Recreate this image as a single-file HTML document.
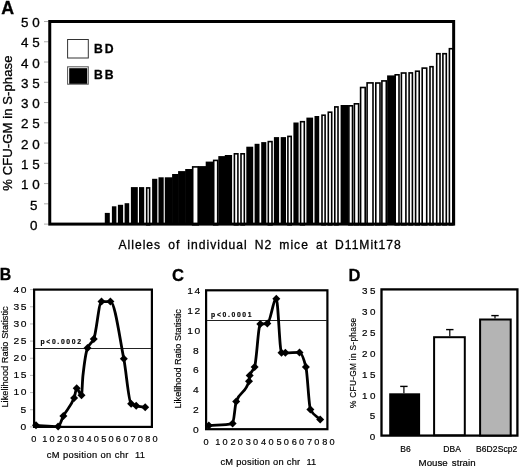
<!DOCTYPE html>
<html><head><meta charset="utf-8"><style>
html,body{margin:0;padding:0;background:#fff;}
svg{display:block;filter:blur(0.35px);font-family:"Liberation Sans", sans-serif;}
text{stroke:#000;stroke-width:0.3px;}
</style></head><body>
<svg width="520" height="468" viewBox="0 0 520 468">
<rect width="520" height="468" fill="#fff"/>
<text x="1.3" y="13.7" text-anchor="start" fill="#000" style="font-size:17.8px;font-weight:bold;letter-spacing:0px;word-spacing:0px;stroke-width:0.3px;">A</text>
<line x1="44" y1="224.10" x2="48.5" y2="224.10" stroke="#999" stroke-width="0.8"/>
<text x="0" y="0" text-anchor="start" fill="#000" style="font-size:12.2px;font-weight:normal;letter-spacing:3.3832414772727253px;word-spacing:0px;stroke-width:0.3px;" transform="translate(29.9 229.97) scale(1.1 1)">0</text>
<line x1="44" y1="203.84" x2="48.5" y2="203.84" stroke="#999" stroke-width="0.8"/>
<text x="0" y="0" text-anchor="start" fill="#000" style="font-size:12.2px;font-weight:normal;letter-spacing:3.3832414772727253px;word-spacing:0px;stroke-width:0.3px;" transform="translate(29.9 209.67000000000002) scale(1.1 1)">5</text>
<line x1="44" y1="183.58" x2="48.5" y2="183.58" stroke="#999" stroke-width="0.8"/>
<text x="0" y="0" text-anchor="start" fill="#000" style="font-size:12.2px;font-weight:normal;letter-spacing:3.3832414772727253px;word-spacing:0px;stroke-width:0.3px;" transform="translate(21.0 189.37) scale(1.1 1)">10</text>
<line x1="44" y1="163.32" x2="48.5" y2="163.32" stroke="#999" stroke-width="0.8"/>
<text x="0" y="0" text-anchor="start" fill="#000" style="font-size:12.2px;font-weight:normal;letter-spacing:3.3832414772727253px;word-spacing:0px;stroke-width:0.3px;" transform="translate(21.0 169.07) scale(1.1 1)">15</text>
<line x1="44" y1="143.06" x2="48.5" y2="143.06" stroke="#999" stroke-width="0.8"/>
<text x="0" y="0" text-anchor="start" fill="#000" style="font-size:12.2px;font-weight:normal;letter-spacing:3.3832414772727253px;word-spacing:0px;stroke-width:0.3px;" transform="translate(21.0 148.77) scale(1.1 1)">20</text>
<line x1="44" y1="122.80" x2="48.5" y2="122.80" stroke="#999" stroke-width="0.8"/>
<text x="0" y="0" text-anchor="start" fill="#000" style="font-size:12.2px;font-weight:normal;letter-spacing:3.3832414772727253px;word-spacing:0px;stroke-width:0.3px;" transform="translate(21.0 128.47) scale(1.1 1)">25</text>
<line x1="44" y1="102.54" x2="48.5" y2="102.54" stroke="#999" stroke-width="0.8"/>
<text x="0" y="0" text-anchor="start" fill="#000" style="font-size:12.2px;font-weight:normal;letter-spacing:3.3832414772727253px;word-spacing:0px;stroke-width:0.3px;" transform="translate(21.0 108.17000000000002) scale(1.1 1)">30</text>
<line x1="44" y1="82.28" x2="48.5" y2="82.28" stroke="#999" stroke-width="0.8"/>
<text x="0" y="0" text-anchor="start" fill="#000" style="font-size:12.2px;font-weight:normal;letter-spacing:3.3832414772727253px;word-spacing:0px;stroke-width:0.3px;" transform="translate(21.0 87.87) scale(1.1 1)">35</text>
<line x1="44" y1="62.02" x2="48.5" y2="62.02" stroke="#999" stroke-width="0.8"/>
<text x="0" y="0" text-anchor="start" fill="#000" style="font-size:12.2px;font-weight:normal;letter-spacing:3.3832414772727253px;word-spacing:0px;stroke-width:0.3px;" transform="translate(21.0 67.57000000000001) scale(1.1 1)">40</text>
<line x1="44" y1="41.76" x2="48.5" y2="41.76" stroke="#999" stroke-width="0.8"/>
<text x="0" y="0" text-anchor="start" fill="#000" style="font-size:12.2px;font-weight:normal;letter-spacing:3.3832414772727253px;word-spacing:0px;stroke-width:0.3px;" transform="translate(21.0 47.27) scale(1.1 1)">45</text>
<line x1="44" y1="21.50" x2="48.5" y2="21.50" stroke="#999" stroke-width="0.8"/>
<text x="0" y="0" text-anchor="start" fill="#000" style="font-size:12.2px;font-weight:normal;letter-spacing:3.3832414772727253px;word-spacing:0px;stroke-width:0.3px;" transform="translate(21.0 26.970000000000002) scale(1.1 1)">50</text>
<text x="11.9" y="190.7" text-anchor="start" fill="#000" style="font-size:13px;font-weight:normal;letter-spacing:0.12px;word-spacing:0px;stroke-width:0.3px;" transform="rotate(-90 11.9 190.7)">% CFU-GM in S-phase</text>
<rect x="104.80" y="212.90" width="5.00" height="11.10" fill="#000"/>
<rect x="111.90" y="206.30" width="4.50" height="17.70" fill="#000"/>
<rect x="117.90" y="204.80" width="5.20" height="19.20" fill="#000"/>
<rect x="124.60" y="203.20" width="4.60" height="20.80" fill="#000"/>
<rect x="130.90" y="187.10" width="6.90" height="36.90" fill="#000"/>
<rect x="139.00" y="187.10" width="5.20" height="36.90" fill="#000"/>
<rect x="152.10" y="178.80" width="5.20" height="45.20" fill="#000"/>
<rect x="158.50" y="177.30" width="5.20" height="46.70" fill="#000"/>
<rect x="164.80" y="177.30" width="7.90" height="46.70" fill="#000"/>
<rect x="172.10" y="174.00" width="6.60" height="50.00" fill="#000"/>
<rect x="178.10" y="171.10" width="7.70" height="52.90" fill="#000"/>
<rect x="185.20" y="169.00" width="7.30" height="55.00" fill="#000"/>
<rect x="198.30" y="166.10" width="8.00" height="57.90" fill="#000"/>
<rect x="205.70" y="161.60" width="7.80" height="62.40" fill="#000"/>
<rect x="218.30" y="156.10" width="7.10" height="67.90" fill="#000"/>
<rect x="224.80" y="155.00" width="7.30" height="69.00" fill="#000"/>
<rect x="246.30" y="146.70" width="6.90" height="77.30" fill="#000"/>
<rect x="254.60" y="143.80" width="4.90" height="80.20" fill="#000"/>
<rect x="261.20" y="142.10" width="5.10" height="81.90" fill="#000"/>
<rect x="273.90" y="137.10" width="5.20" height="86.90" fill="#000"/>
<rect x="280.70" y="137.10" width="5.30" height="86.90" fill="#000"/>
<rect x="293.40" y="122.50" width="5.20" height="101.50" fill="#000"/>
<rect x="306.40" y="117.60" width="6.70" height="106.40" fill="#000"/>
<rect x="314.50" y="116.00" width="4.70" height="108.00" fill="#000"/>
<rect x="340.60" y="105.00" width="8.10" height="119.00" fill="#000"/>
<rect x="387.10" y="75.40" width="7.90" height="148.60" fill="#000"/>
<rect x="146.70" y="187.90" width="2.90" height="36.90" fill="#fff" stroke="#000" stroke-width="1.6"/>
<rect x="192.70" y="166.90" width="5.50" height="57.90" fill="#fff" stroke="#000" stroke-width="1.6"/>
<rect x="213.70" y="160.40" width="4.00" height="64.40" fill="#fff" stroke="#000" stroke-width="1.6"/>
<rect x="234.40" y="153.80" width="3.50" height="71.00" fill="#fff" stroke="#000" stroke-width="1.6"/>
<rect x="241.00" y="153.80" width="3.30" height="71.00" fill="#fff" stroke="#000" stroke-width="1.6"/>
<rect x="268.30" y="141.60" width="3.70" height="83.20" fill="#fff" stroke="#000" stroke-width="1.6"/>
<rect x="287.90" y="136.40" width="3.30" height="88.40" fill="#fff" stroke="#000" stroke-width="1.6"/>
<rect x="300.60" y="121.70" width="3.70" height="103.10" fill="#fff" stroke="#000" stroke-width="1.6"/>
<rect x="322.00" y="115.20" width="3.10" height="109.60" fill="#fff" stroke="#000" stroke-width="1.6"/>
<rect x="328.30" y="112.20" width="3.40" height="112.60" fill="#fff" stroke="#000" stroke-width="1.6"/>
<rect x="334.80" y="106.90" width="3.20" height="117.90" fill="#fff" stroke="#000" stroke-width="1.6"/>
<rect x="348.90" y="105.80" width="3.60" height="119.00" fill="#fff" stroke="#000" stroke-width="1.6"/>
<rect x="354.40" y="103.80" width="4.20" height="121.00" fill="#fff" stroke="#000" stroke-width="1.6"/>
<rect x="360.60" y="87.50" width="4.60" height="137.30" fill="#fff" stroke="#000" stroke-width="1.6"/>
<rect x="367.10" y="82.90" width="5.90" height="141.90" fill="#fff" stroke="#000" stroke-width="1.6"/>
<rect x="375.80" y="83.00" width="4.20" height="141.80" fill="#fff" stroke="#000" stroke-width="1.6"/>
<rect x="381.90" y="80.90" width="4.40" height="143.90" fill="#fff" stroke="#000" stroke-width="1.6"/>
<rect x="395.20" y="74.80" width="3.80" height="150.00" fill="#fff" stroke="#000" stroke-width="1.6"/>
<rect x="401.40" y="73.00" width="4.50" height="151.80" fill="#fff" stroke="#000" stroke-width="1.6"/>
<rect x="409.10" y="72.90" width="3.30" height="151.90" fill="#fff" stroke="#000" stroke-width="1.6"/>
<rect x="415.60" y="71.20" width="3.60" height="153.60" fill="#fff" stroke="#000" stroke-width="1.6"/>
<rect x="422.20" y="68.10" width="4.50" height="156.70" fill="#fff" stroke="#000" stroke-width="1.6"/>
<rect x="430.00" y="66.70" width="3.00" height="158.10" fill="#fff" stroke="#000" stroke-width="1.6"/>
<rect x="436.70" y="53.70" width="3.30" height="171.10" fill="#fff" stroke="#000" stroke-width="1.6"/>
<rect x="442.90" y="53.70" width="3.40" height="171.10" fill="#fff" stroke="#000" stroke-width="1.6"/>
<rect x="449.40" y="48.70" width="3.40" height="176.10" fill="#fff" stroke="#000" stroke-width="1.6"/>
<rect x="49.75" y="21.5" width="403.9" height="202.6" fill="none" stroke="#000" stroke-width="3"/>
<rect x="67.6" y="39.5" width="20.7" height="18.5" fill="#fff" stroke="#333" stroke-width="1"/>
<rect x="67.6" y="66.8" width="20.7" height="17.4" fill="#fff" stroke="#555" stroke-width="1"/>
<rect x="69.2" y="68.2" width="18" height="15.6" fill="#000"/>
<text x="94" y="52.8" text-anchor="start" fill="#000" style="font-size:12.2px;font-weight:bold;letter-spacing:2.0px;word-spacing:0px;stroke-width:0.3px;">BD</text>
<text x="94" y="79" text-anchor="start" fill="#000" style="font-size:12.2px;font-weight:bold;letter-spacing:2.0px;word-spacing:0px;stroke-width:0.3px;">BB</text>
<text x="118.5" y="248.5" text-anchor="start" fill="#000" style="font-size:12.1px;font-weight:normal;letter-spacing:1.0px;word-spacing:2.7px;stroke-width:0.3px;">Alleles of individual N2 mice at D11Mit178</text>
<text x="-0.3" y="280.3" text-anchor="start" fill="#000" style="font-size:15.9px;font-weight:bold;letter-spacing:0px;word-spacing:0px;stroke-width:0.3px;">B</text>
<rect x="34.1" y="289.6" width="117.8" height="137.3" fill="none" stroke="#000" stroke-width="2.2"/>
<line x1="30" y1="426.90" x2="33" y2="426.90" stroke="#aaa" stroke-width="0.8"/>
<text x="0" y="0" text-anchor="start" fill="#000" style="font-size:9.5px;font-weight:normal;letter-spacing:1.46052662037037px;word-spacing:0px;stroke-width:0.18px;" transform="translate(20.5 429.79999999999995) scale(1.08 1)">0</text>
<line x1="30" y1="409.74" x2="33" y2="409.74" stroke="#aaa" stroke-width="0.8"/>
<text x="0" y="0" text-anchor="start" fill="#000" style="font-size:9.5px;font-weight:normal;letter-spacing:1.46052662037037px;word-spacing:0px;stroke-width:0.18px;" transform="translate(20.5 412.63999999999993) scale(1.08 1)">5</text>
<line x1="30" y1="392.58" x2="33" y2="392.58" stroke="#aaa" stroke-width="0.8"/>
<text x="0" y="0" text-anchor="start" fill="#000" style="font-size:9.5px;font-weight:normal;letter-spacing:1.46052662037037px;word-spacing:0px;stroke-width:0.18px;" transform="translate(13.5 395.47999999999996) scale(1.08 1)">10</text>
<line x1="30" y1="375.42" x2="33" y2="375.42" stroke="#aaa" stroke-width="0.8"/>
<text x="0" y="0" text-anchor="start" fill="#000" style="font-size:9.5px;font-weight:normal;letter-spacing:1.46052662037037px;word-spacing:0px;stroke-width:0.18px;" transform="translate(13.5 378.31999999999994) scale(1.08 1)">15</text>
<line x1="30" y1="358.26" x2="33" y2="358.26" stroke="#aaa" stroke-width="0.8"/>
<text x="0" y="0" text-anchor="start" fill="#000" style="font-size:9.5px;font-weight:normal;letter-spacing:1.46052662037037px;word-spacing:0px;stroke-width:0.18px;" transform="translate(13.5 361.15999999999997) scale(1.08 1)">20</text>
<line x1="30" y1="341.10" x2="33" y2="341.10" stroke="#aaa" stroke-width="0.8"/>
<text x="0" y="0" text-anchor="start" fill="#000" style="font-size:9.5px;font-weight:normal;letter-spacing:1.46052662037037px;word-spacing:0px;stroke-width:0.18px;" transform="translate(13.5 343.99999999999994) scale(1.08 1)">25</text>
<line x1="30" y1="323.94" x2="33" y2="323.94" stroke="#aaa" stroke-width="0.8"/>
<text x="0" y="0" text-anchor="start" fill="#000" style="font-size:9.5px;font-weight:normal;letter-spacing:1.46052662037037px;word-spacing:0px;stroke-width:0.18px;" transform="translate(13.5 326.84) scale(1.08 1)">30</text>
<line x1="30" y1="306.78" x2="33" y2="306.78" stroke="#aaa" stroke-width="0.8"/>
<text x="0" y="0" text-anchor="start" fill="#000" style="font-size:9.5px;font-weight:normal;letter-spacing:1.46052662037037px;word-spacing:0px;stroke-width:0.18px;" transform="translate(13.5 309.67999999999995) scale(1.08 1)">35</text>
<line x1="30" y1="289.62" x2="33" y2="289.62" stroke="#aaa" stroke-width="0.8"/>
<text x="0" y="0" text-anchor="start" fill="#000" style="font-size:9.5px;font-weight:normal;letter-spacing:1.46052662037037px;word-spacing:0px;stroke-width:0.18px;" transform="translate(13.5 292.52) scale(1.08 1)">40</text>
<text x="7.9" y="407.6" text-anchor="start" fill="#000" style="font-size:9.3px;font-weight:normal;letter-spacing:0px;word-spacing:0px;stroke-width:0.18px;" transform="rotate(-90 7.9 407.6)">Likelihood Ratio Statistic</text>
<text x="33.8" y="441.8" text-anchor="middle" fill="#000" style="font-size:9.2px;font-weight:normal;letter-spacing:2.2px;word-spacing:0px;stroke-width:0.18px;" dx="1.1">0</text>
<text x="48.51" y="441.8" text-anchor="middle" fill="#000" style="font-size:9.2px;font-weight:normal;letter-spacing:2.2px;word-spacing:0px;stroke-width:0.18px;" dx="1.1">10</text>
<text x="63.22" y="441.8" text-anchor="middle" fill="#000" style="font-size:9.2px;font-weight:normal;letter-spacing:2.2px;word-spacing:0px;stroke-width:0.18px;" dx="1.1">20</text>
<text x="77.93" y="441.8" text-anchor="middle" fill="#000" style="font-size:9.2px;font-weight:normal;letter-spacing:2.2px;word-spacing:0px;stroke-width:0.18px;" dx="1.1">30</text>
<text x="92.64" y="441.8" text-anchor="middle" fill="#000" style="font-size:9.2px;font-weight:normal;letter-spacing:2.2px;word-spacing:0px;stroke-width:0.18px;" dx="1.1">40</text>
<text x="107.35000000000001" y="441.8" text-anchor="middle" fill="#000" style="font-size:9.2px;font-weight:normal;letter-spacing:2.2px;word-spacing:0px;stroke-width:0.18px;" dx="1.1">50</text>
<text x="122.06" y="441.8" text-anchor="middle" fill="#000" style="font-size:9.2px;font-weight:normal;letter-spacing:2.2px;word-spacing:0px;stroke-width:0.18px;" dx="1.1">60</text>
<text x="136.76999999999998" y="441.8" text-anchor="middle" fill="#000" style="font-size:9.2px;font-weight:normal;letter-spacing:2.2px;word-spacing:0px;stroke-width:0.18px;" dx="1.1">70</text>
<text x="151.48000000000002" y="441.8" text-anchor="middle" fill="#000" style="font-size:9.2px;font-weight:normal;letter-spacing:2.2px;word-spacing:0px;stroke-width:0.18px;" dx="1.1">80</text>
<text x="46.8" y="457.5" text-anchor="start" fill="#000" style="font-size:9.3px;font-weight:normal;letter-spacing:0.3px;word-spacing:0.3px;stroke-width:0.18px;" xml:space="preserve">cM position on chr  11</text>
<line x1="35" y1="348.5" x2="151" y2="348.5" stroke="#222" stroke-width="1"/>
<text x="40.5" y="343.6" text-anchor="start" fill="#000" style="font-size:6.8px;font-weight:bold;letter-spacing:1.65px;word-spacing:0px;stroke-width:0.18px;">p&lt;0.0002</text>
<path d="M36.00,425.30 C43.37,425.73 50.73,426.60 58.10,426.60 C59.87,426.60 61.63,419.16 63.40,415.90 C66.97,409.32 70.53,407.04 74.10,398.10 C74.97,395.93 75.83,388.30 76.70,388.30 C78.30,388.30 79.90,395.30 81.50,395.30 C81.97,395.30 82.43,380.22 82.90,376.00 C84.43,362.12 85.97,351.78 87.50,348.10 C89.58,343.09 91.67,343.64 93.75,339.10 C96.33,333.48 98.92,301.60 101.50,301.60 C104.47,301.60 107.43,301.60 110.40,301.60 C114.87,301.60 119.33,335.86 123.80,358.80 C126.23,371.30 128.67,402.09 131.10,403.80 C132.80,404.99 134.50,405.41 136.20,405.80 C139.20,406.50 142.20,406.73 145.20,407.20" fill="none" stroke="#000" stroke-width="2.8" stroke-linejoin="round" stroke-linecap="round"/>
<path d="M32.00,425.30 L36.00,421.30 L40.00,425.30 L36.00,429.30 Z" fill="#000"/>
<path d="M54.10,426.60 L58.10,422.60 L62.10,426.60 L58.10,430.60 Z" fill="#000"/>
<path d="M59.40,415.90 L63.40,411.90 L67.40,415.90 L63.40,419.90 Z" fill="#000"/>
<path d="M70.10,398.10 L74.10,394.10 L78.10,398.10 L74.10,402.10 Z" fill="#000"/>
<path d="M72.70,388.30 L76.70,384.30 L80.70,388.30 L76.70,392.30 Z" fill="#000"/>
<path d="M77.50,395.30 L81.50,391.30 L85.50,395.30 L81.50,399.30 Z" fill="#000"/>
<path d="M83.50,348.10 L87.50,344.10 L91.50,348.10 L87.50,352.10 Z" fill="#000"/>
<path d="M89.75,339.10 L93.75,335.10 L97.75,339.10 L93.75,343.10 Z" fill="#000"/>
<path d="M97.50,301.60 L101.50,297.60 L105.50,301.60 L101.50,305.60 Z" fill="#000"/>
<path d="M106.40,301.60 L110.40,297.60 L114.40,301.60 L110.40,305.60 Z" fill="#000"/>
<path d="M119.80,358.80 L123.80,354.80 L127.80,358.80 L123.80,362.80 Z" fill="#000"/>
<path d="M127.10,403.80 L131.10,399.80 L135.10,403.80 L131.10,407.80 Z" fill="#000"/>
<path d="M132.20,405.80 L136.20,401.80 L140.20,405.80 L136.20,409.80 Z" fill="#000"/>
<path d="M141.20,407.20 L145.20,403.20 L149.20,407.20 L145.20,411.20 Z" fill="#000"/>
<text x="171.9" y="281.3" text-anchor="start" fill="#000" style="font-size:16.6px;font-weight:bold;letter-spacing:0px;word-spacing:0px;stroke-width:0.3px;">C</text>
<rect x="206.1" y="290.3" width="121.3" height="138.9" fill="none" stroke="#000" stroke-width="2.2"/>
<text x="0" y="0" text-anchor="start" fill="#000" style="font-size:9.5px;font-weight:normal;letter-spacing:1.46052662037037px;word-spacing:0px;stroke-width:0.18px;" transform="translate(193.1 432.8) scale(1.08 1)">0</text>
<text x="0" y="0" text-anchor="start" fill="#000" style="font-size:9.5px;font-weight:normal;letter-spacing:1.46052662037037px;word-spacing:0px;stroke-width:0.18px;" transform="translate(193.1 413.0) scale(1.08 1)">2</text>
<text x="0" y="0" text-anchor="start" fill="#000" style="font-size:9.5px;font-weight:normal;letter-spacing:1.46052662037037px;word-spacing:0px;stroke-width:0.18px;" transform="translate(193.1 393.2) scale(1.08 1)">4</text>
<text x="0" y="0" text-anchor="start" fill="#000" style="font-size:9.5px;font-weight:normal;letter-spacing:1.46052662037037px;word-spacing:0px;stroke-width:0.18px;" transform="translate(193.1 373.40000000000003) scale(1.08 1)">6</text>
<text x="0" y="0" text-anchor="start" fill="#000" style="font-size:9.5px;font-weight:normal;letter-spacing:1.46052662037037px;word-spacing:0px;stroke-width:0.18px;" transform="translate(193.1 353.6) scale(1.08 1)">8</text>
<text x="0" y="0" text-anchor="start" fill="#000" style="font-size:9.5px;font-weight:normal;letter-spacing:1.46052662037037px;word-spacing:0px;stroke-width:0.18px;" transform="translate(187.3 333.8) scale(1.08 1)">10</text>
<text x="0" y="0" text-anchor="start" fill="#000" style="font-size:9.5px;font-weight:normal;letter-spacing:1.46052662037037px;word-spacing:0px;stroke-width:0.18px;" transform="translate(187.3 314.0) scale(1.08 1)">12</text>
<text x="0" y="0" text-anchor="start" fill="#000" style="font-size:9.5px;font-weight:normal;letter-spacing:1.46052662037037px;word-spacing:0px;stroke-width:0.18px;" transform="translate(187.3 294.2) scale(1.08 1)">14</text>
<text x="180.7" y="408.5" text-anchor="start" fill="#000" style="font-size:9.15px;font-weight:normal;letter-spacing:0px;word-spacing:0px;stroke-width:0.18px;" transform="rotate(-90 180.7 408.5)">Likelihood Ratio Statistic</text>
<text x="206.1" y="445.0" text-anchor="middle" fill="#000" style="font-size:9.2px;font-weight:normal;letter-spacing:2.2px;word-spacing:0px;stroke-width:0.18px;" dx="1.1">0</text>
<text x="221.4" y="445.0" text-anchor="middle" fill="#000" style="font-size:9.2px;font-weight:normal;letter-spacing:2.2px;word-spacing:0px;stroke-width:0.18px;" dx="1.1">10</text>
<text x="236.7" y="445.0" text-anchor="middle" fill="#000" style="font-size:9.2px;font-weight:normal;letter-spacing:2.2px;word-spacing:0px;stroke-width:0.18px;" dx="1.1">20</text>
<text x="252.0" y="445.0" text-anchor="middle" fill="#000" style="font-size:9.2px;font-weight:normal;letter-spacing:2.2px;word-spacing:0px;stroke-width:0.18px;" dx="1.1">30</text>
<text x="267.3" y="445.0" text-anchor="middle" fill="#000" style="font-size:9.2px;font-weight:normal;letter-spacing:2.2px;word-spacing:0px;stroke-width:0.18px;" dx="1.1">40</text>
<text x="282.6" y="445.0" text-anchor="middle" fill="#000" style="font-size:9.2px;font-weight:normal;letter-spacing:2.2px;word-spacing:0px;stroke-width:0.18px;" dx="1.1">50</text>
<text x="297.9" y="445.0" text-anchor="middle" fill="#000" style="font-size:9.2px;font-weight:normal;letter-spacing:2.2px;word-spacing:0px;stroke-width:0.18px;" dx="1.1">60</text>
<text x="313.2" y="445.0" text-anchor="middle" fill="#000" style="font-size:9.2px;font-weight:normal;letter-spacing:2.2px;word-spacing:0px;stroke-width:0.18px;" dx="1.1">70</text>
<text x="328.5" y="445.0" text-anchor="middle" fill="#000" style="font-size:9.2px;font-weight:normal;letter-spacing:2.2px;word-spacing:0px;stroke-width:0.18px;" dx="1.1">80</text>
<text x="220.4" y="465" text-anchor="start" fill="#000" style="font-size:9.3px;font-weight:normal;letter-spacing:0.22px;word-spacing:0.2px;stroke-width:0.18px;" xml:space="preserve">cM position on chr  11</text>
<line x1="207" y1="320.5" x2="327" y2="320.5" stroke="#222" stroke-width="1"/>
<text x="211.1" y="316.8" text-anchor="start" fill="#000" style="font-size:6.8px;font-weight:bold;letter-spacing:1.65px;word-spacing:0px;stroke-width:0.18px;">p&lt;0.0001</text>
<path d="M208.80,425.50 C216.73,424.87 224.67,425.24 232.60,423.60 C233.80,423.35 235.00,405.01 236.20,401.60 C240.47,389.48 244.73,395.37 249.00,381.20 C249.23,380.43 249.47,376.40 249.70,375.60 C251.33,370.00 252.97,371.58 254.60,367.00 C256.50,361.67 258.40,324.22 260.30,324.00 C262.63,323.73 264.97,323.85 267.30,323.60 C270.30,323.28 273.30,298.70 276.30,298.70 C278.03,298.70 279.77,352.80 281.50,352.80 C282.80,352.80 284.10,352.80 285.40,352.80 C290.10,352.80 294.80,352.40 299.50,352.40 C301.63,352.40 303.77,358.81 305.90,366.90 C307.40,372.59 308.90,406.46 310.40,409.50 C313.67,416.12 316.93,416.10 320.20,419.40" fill="none" stroke="#000" stroke-width="2.8" stroke-linejoin="round" stroke-linecap="round"/>
<path d="M204.80,425.50 L208.80,421.50 L212.80,425.50 L208.80,429.50 Z" fill="#000"/>
<path d="M228.60,423.60 L232.60,419.60 L236.60,423.60 L232.60,427.60 Z" fill="#000"/>
<path d="M232.20,401.60 L236.20,397.60 L240.20,401.60 L236.20,405.60 Z" fill="#000"/>
<path d="M245.00,381.20 L249.00,377.20 L253.00,381.20 L249.00,385.20 Z" fill="#000"/>
<path d="M245.70,375.60 L249.70,371.60 L253.70,375.60 L249.70,379.60 Z" fill="#000"/>
<path d="M250.60,367.00 L254.60,363.00 L258.60,367.00 L254.60,371.00 Z" fill="#000"/>
<path d="M256.30,324.00 L260.30,320.00 L264.30,324.00 L260.30,328.00 Z" fill="#000"/>
<path d="M263.30,323.60 L267.30,319.60 L271.30,323.60 L267.30,327.60 Z" fill="#000"/>
<path d="M272.30,298.70 L276.30,294.70 L280.30,298.70 L276.30,302.70 Z" fill="#000"/>
<path d="M277.50,352.80 L281.50,348.80 L285.50,352.80 L281.50,356.80 Z" fill="#000"/>
<path d="M281.40,352.80 L285.40,348.80 L289.40,352.80 L285.40,356.80 Z" fill="#000"/>
<path d="M295.50,352.40 L299.50,348.40 L303.50,352.40 L299.50,356.40 Z" fill="#000"/>
<path d="M301.90,366.90 L305.90,362.90 L309.90,366.90 L305.90,370.90 Z" fill="#000"/>
<path d="M306.40,409.50 L310.40,405.50 L314.40,409.50 L310.40,413.50 Z" fill="#000"/>
<path d="M316.20,419.40 L320.20,415.40 L324.20,419.40 L320.20,423.40 Z" fill="#000"/>
<text x="348.6" y="281" text-anchor="start" fill="#000" style="font-size:16.5px;font-weight:bold;letter-spacing:0px;word-spacing:0px;stroke-width:0.3px;">D</text>
<rect x="381.5" y="289.4" width="135.9" height="146.2" fill="none" stroke="#000" stroke-width="2.3"/>
<text x="0" y="0" text-anchor="start" fill="#000" style="font-size:8.8px;font-weight:normal;letter-spacing:2.3328258928571426px;word-spacing:0px;stroke-width:0.18px;" transform="translate(369.8 440.25) scale(1.12 1)">0</text>
<text x="0" y="0" text-anchor="start" fill="#000" style="font-size:8.8px;font-weight:normal;letter-spacing:2.3328258928571426px;word-spacing:0px;stroke-width:0.18px;" transform="translate(369.8 419.38) scale(1.12 1)">5</text>
<text x="0" y="0" text-anchor="start" fill="#000" style="font-size:8.8px;font-weight:normal;letter-spacing:2.3328258928571426px;word-spacing:0px;stroke-width:0.18px;" transform="translate(361.9 398.51) scale(1.12 1)">10</text>
<text x="0" y="0" text-anchor="start" fill="#000" style="font-size:8.8px;font-weight:normal;letter-spacing:2.3328258928571426px;word-spacing:0px;stroke-width:0.18px;" transform="translate(361.9 377.64) scale(1.12 1)">15</text>
<text x="0" y="0" text-anchor="start" fill="#000" style="font-size:8.8px;font-weight:normal;letter-spacing:2.3328258928571426px;word-spacing:0px;stroke-width:0.18px;" transform="translate(361.9 356.77) scale(1.12 1)">20</text>
<text x="0" y="0" text-anchor="start" fill="#000" style="font-size:8.8px;font-weight:normal;letter-spacing:2.3328258928571426px;word-spacing:0px;stroke-width:0.18px;" transform="translate(361.9 335.9) scale(1.12 1)">25</text>
<text x="0" y="0" text-anchor="start" fill="#000" style="font-size:8.8px;font-weight:normal;letter-spacing:2.3328258928571426px;word-spacing:0px;stroke-width:0.18px;" transform="translate(361.9 315.03) scale(1.12 1)">30</text>
<text x="0" y="0" text-anchor="start" fill="#000" style="font-size:8.8px;font-weight:normal;letter-spacing:2.3328258928571426px;word-spacing:0px;stroke-width:0.18px;" transform="translate(361.9 294.15999999999997) scale(1.12 1)">35</text>
<text x="355.6" y="408.0" text-anchor="start" fill="#000" style="font-size:8.3px;font-weight:normal;letter-spacing:0.3px;word-spacing:0px;stroke-width:0.18px;" transform="rotate(-90 355.6 408.0)">% CFU-GM in S-phase</text>
<rect x="389.2" y="393.3" width="30.9" height="42" fill="#000"/>
<rect x="434.1" y="337.2" width="30.7" height="98" fill="#fff" stroke="#000" stroke-width="2"/>
<rect x="480.1" y="319.5" width="30.6" height="116" fill="#b4b4b4" stroke="#000" stroke-width="2"/>
<line x1="403.9" y1="393.3" x2="403.9" y2="386.4" stroke="#000" stroke-width="1.2"/>
<line x1="400.2" y1="386.4" x2="407.59999999999997" y2="386.4" stroke="#000" stroke-width="1.4"/>
<line x1="449.8" y1="336.2" x2="449.8" y2="329.6" stroke="#000" stroke-width="1.2"/>
<line x1="446.1" y1="329.6" x2="453.5" y2="329.6" stroke="#000" stroke-width="1.4"/>
<line x1="495" y1="318.5" x2="495" y2="315.6" stroke="#000" stroke-width="1.2"/>
<line x1="491.3" y1="315.6" x2="498.7" y2="315.6" stroke="#000" stroke-width="1.4"/>
<text x="400.2" y="452" text-anchor="start" fill="#000" style="font-size:8.5px;font-weight:normal;letter-spacing:0.1px;word-spacing:0px;stroke-width:0.18px;">B6</text>
<text x="443.3" y="452" text-anchor="start" fill="#000" style="font-size:8.5px;font-weight:normal;letter-spacing:0.1px;word-spacing:0px;stroke-width:0.18px;">DBA</text>
<text x="476" y="452" text-anchor="start" fill="#000" style="font-size:8.5px;font-weight:normal;letter-spacing:0.1px;word-spacing:0px;stroke-width:0.18px;">B6D2Scp2</text>
<text x="418.6" y="466" text-anchor="start" fill="#000" style="font-size:9.7px;font-weight:normal;letter-spacing:0px;word-spacing:1.5px;stroke-width:0.18px;">Mouse strain</text>
</svg>
</body></html>
